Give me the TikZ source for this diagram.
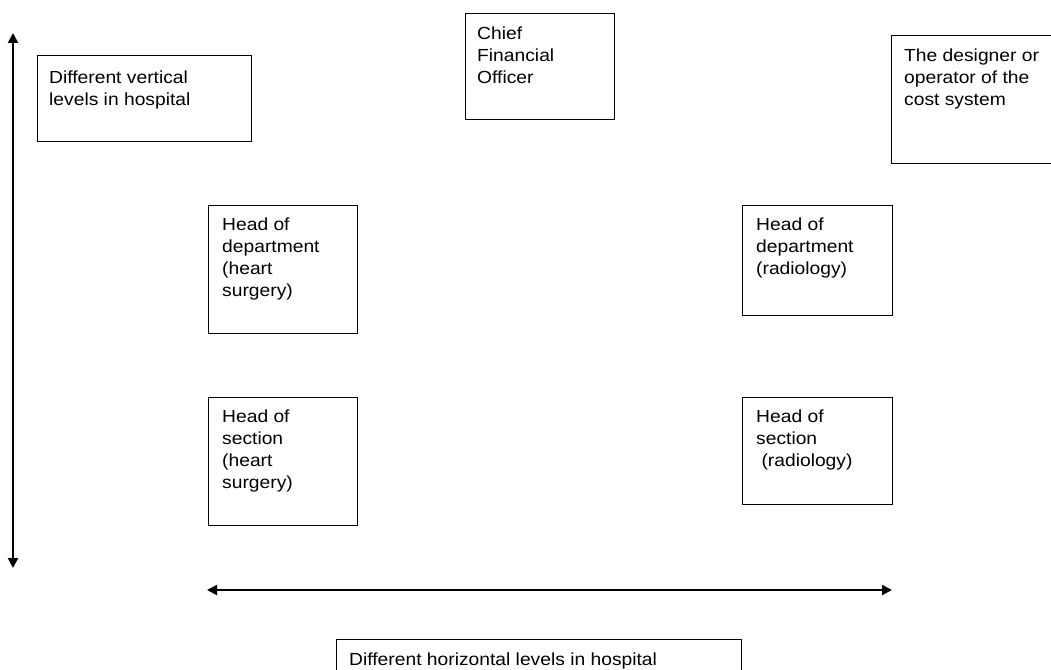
\documentclass[tikz,border=0pt]{standalone}
\usepackage{fontspec}
\setmainfont[FakeStretch=1.1]{Liberation Sans}
\usetikzlibrary{arrows.meta}
\begin{document}
\begin{tikzpicture}[x=1pt,y=-1pt,
  box/.style={draw=black,line width=1pt,inner sep=0pt,anchor=north west},
  txt/.style={anchor=north west,inner sep=0pt,align=left,
    font=\fontsize{17.5}{22}\selectfont},
  levelarrow/.style={line width=2pt,{Triangle[length=10pt,width=10pt]}-{Triangle[length=10pt,width=10pt]}}]
\useasboundingbox (0,0) rectangle (1051,669);
\clip (0,0) rectangle (1051,669);
% boxes: corner, width, height
\node[box,minimum width=214pt,minimum height=86pt] (vbox) at (37,55) {};
\node[box,minimum width=149pt,minimum height=106pt] (cfo) at (465,13) {};
\node[box,minimum width=180pt,minimum height=128pt] (des) at (891,35) {};
\node[box,minimum width=149pt,minimum height=128pt] (hdh) at (208,205) {};
\node[box,minimum width=150pt,minimum height=110pt] (hdr) at (742,205) {};
\node[box,minimum width=149pt,minimum height=128pt] (hsh) at (208,397) {};
\node[box,minimum width=150pt,minimum height=107pt] (hsr) at (742,397) {};
\node[box,minimum width=405pt,minimum height=60pt] (hbox) at (336,639) {};
% texts, first line hung from the box's top-left corner
\node[txt] (vtxt) at ([shift={(12,13)}]vbox.north west) {\strut Different vertical\\levels in hospital};
\node[txt] (cfotxt) at ([shift={(12,11)}]cfo.north west) {\strut Chief\\Financial\\Officer};
\node[txt] (destxt) at ([shift={(13,11)}]des.north west) {\strut The designer or\\operator of the\\cost system};
\node[txt] (hdhtxt) at ([shift={(14,10)}]hdh.north west) {\strut Head of\\department\\(heart\\surgery)};
\node[txt] (hdrtxt) at ([shift={(14,10)}]hdr.north west) {\strut Head of\\department\\(radiology)};
\node[txt] (hshtxt) at ([shift={(14,10)}]hsh.north west) {\strut Head of\\section\\(heart\\surgery)};
\node[txt] (hsrtxt) at ([shift={(14,10)}]hsr.north west) {\strut Head of\\section\\\ (radiology)};
\node[txt] (htxt) at ([shift={(13,11)}]hbox.north west) {\strut Different horizontal levels in hospital};
% level arrows
\coordinate (vtop) at (13,33);
\coordinate (vbot) at (13,568);
\coordinate (hleft) at (207,590);
\coordinate (hright) at (892,590);
\draw[levelarrow] (vtop) -- (vbot);
\draw[levelarrow] (hleft) -- (hright);
\end{tikzpicture}
\end{document}
